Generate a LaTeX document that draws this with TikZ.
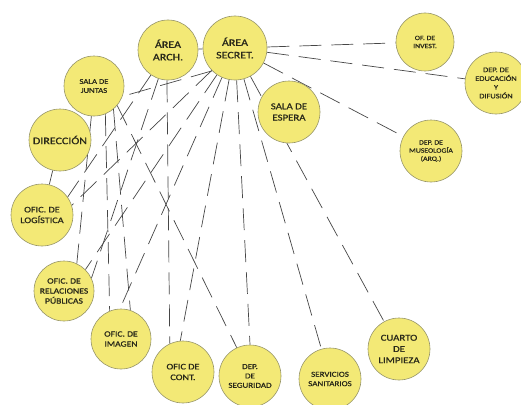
\documentclass[tikz,border=0pt]{standalone}
\usepackage{fontspec}
\newfontfamily\lbl{Carlito}[FakeStretch=1.2, FakeBold=0.8]
\definecolor{bubble}{RGB}{243,233,118}
\definecolor{rim}{RGB}{150,148,105}
\definecolor{ink}{RGB}{40,40,25}
\definecolor{wire}{RGB}{70,70,70}
\tikzset{
  bub/.style={circle, inner sep=0pt, minimum size=#1, fill=bubble, draw=rim, line width=0.6pt, align=center, text=ink},
  dl/.style={draw=wire, line width=0.7pt, dash pattern=on 22pt off 10pt},
}
\newcommand{\fs}[1]{\lbl\fontsize{#1pt}{\the\dimexpr #1pt*5/4\relax}\selectfont}
\begin{document}
\begin{tikzpicture}[x=1pt,y=-1pt]
\useasboundingbox (0,0) rectangle (521,404);
\begin{scope}[every node/.append style={opacity=0}]
\node[bub=60] (arch) at (168,50) {};
\node[bub=64] (secr) at (235,48) {};
\node[bub=60] (juntas) at (94,86) {};
\node[bub=62] (dir) at (60,140) {};
\node[bub=62] (logis) at (42,215) {};
\node[bub=60] (relac) at (64,291) {};
\node[bub=60] (imagen) at (121,339) {};
\node[bub=62] (cont) at (183,372) {};
\node[bub=62] (segur) at (250,376) {};
\node[bub=62] (sanit) at (330,379) {};
\node[bub=62] (limp) at (399,349) {};
\node[bub=62] (espera) at (289,112) {};
\node[bub=58] (invest) at (425,42) {};
\node[bub=62] (educ) at (496,83) {};
\node[bub=62] (museo) at (431,151) {};
\end{scope}
% connectors
\draw[dl] (arch) -- (secr);
\draw[dl] (secr) -- (invest);
\draw[dl] (secr) -- (educ);
\draw[dl] (secr) -- (museo);
\draw[dl] (secr.-135) -- (juntas.-20);
\draw[dl] (secr) -- (limp);
\draw[dl] (secr) -- (sanit);
\draw[dl] (secr) -- (segur.90);
\draw[dl] (secr) -- (cont.95);
\draw[dl] (secr) -- (imagen.92);
\draw[dl] (secr) -- (relac.45);
\draw[dl] (secr) -- (logis.18);
\draw[dl] (arch.-92) -- (cont.115);
\draw[dl] (arch) -- (relac.25);
\draw[dl] (arch) -- (logis.35);
\draw[dl] (juntas.-95) -- (relac.65);
\draw[dl] (juntas.-68) -- (imagen.112);
\draw[dl] (juntas.-50) -- (imagen.72);
\draw[dl] (juntas.-40) -- (segur.115);
\draw[dl] (dir) -- (logis);
% visible nodes
\node[bub=60, font=\fs{10}] at (arch) {ÁREA\\ARCH.};
\node[bub=64, font=\fs{10}] at (secr) {ÁREA\\SECRET.};
\node[bub=60, font=\fs{7.2}] at (juntas) {SALA DE\\JUNTAS};
\node[bub=62, font=\fs{10}] at (dir) {DIRECCIÓN};
\node[bub=62, font=\fs{8.5}] at (logis) {OFIC. DE\\LOGÍSTICA};
\node[bub=60, font=\fs{8}] at (relac) {OFIC. DE\\RELACIONES\\PÚBLICAS};
\node[bub=60, font=\fs{8}] at (imagen) {OFIC. DE\\IMAGEN};
\node[bub=62, font=\fs{8.5}] at (cont) {OFIC DE\\CONT.};
\node[bub=62, font=\fs{7.5}] at (segur) {DEP.\\DE\\SEGURIDAD};
\node[bub=62, font=\fs{7.5}] at (sanit) {SERVICIOS\\SANITARIOS};
\node[bub=62, font=\fs{9}] at (limp) {CUARTO\\DE\\LIMPIEZA};
\node[bub=62, font=\fs{9}] at (espera) {SALA DE\\ESPERA};
\node[bub=58, font=\fs{6.5}] at (invest) {OF. DE\\INVEST.};
\node[bub=62, font=\fs{7}] at (educ) {DEP. DE\\EDUCACIÓN\\Y\\DIFUSIÓN};
\node[bub=62, font=\fs{6.5}] at (museo) {DEP. DE\\MUSEOLOGÍA\\(ARQ.)};
\end{tikzpicture}
\end{document}
